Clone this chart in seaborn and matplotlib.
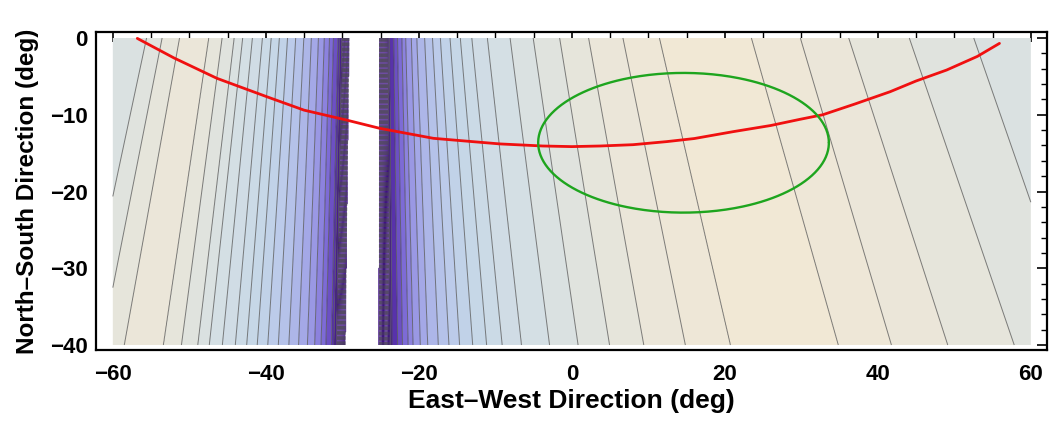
import numpy as np
import matplotlib
matplotlib.use("Agg")
import matplotlib.pyplot as plt
from matplotlib.colors import LinearSegmentedColormap, Normalize
import seaborn as sns
import pandas as pd

# ---------------- data ----------------
# contour positions (deg East-West) along the row y = -30, with their level index
row_y = -30.0
left_pos = [-63.0, -59.5, -56.7, -54.3, -51.9, -49.7, -47.7, -46.3, -44.7, -43.1, -41.7,
            -40.4, -39.1, -37.8, -36.5, -35.3, -34.2, -33.3, -32.5, -31.9, -31.2, -30.6, -29.4]
left_lvl = [15.6, 17, 18, 18.6, 18, 17, 16, 15, 14, 13, 12,
            11, 10, 9, 8, 7, 6, 5, 4, 3, 2, 0, -10]
right_pos = [-25.3, -23.8, -23.6, -22.9, -22.3, -21.6, -21.0, -20.1, -19.2, -17.9, -16.6,
             -15.3, -13.7, -12.0, -10.1, -7.7, -4.2, -0.65, 3.3, 7.6, 12.8, 18.4,
             25.2, 32.0, 38.8, 45.9, 54.4, 63.0, 80.0]
right_lvl = [-10, 0, 1, 2, 3, 4, 5, 6, 7, 8, 9,
             10, 11, 12, 13, 14, 15, 16, 17, 18, 19, 20,
             20.6, 20, 19, 18, 17, 16, 14]
gap_lo, gap_hi = -29.4, -25.3          # white (out of range) strip

# tilt of the contour lines (deg East-West per deg North-South)
tilt_pos = [-63, -55, -45, -35, -29, -25, -20, -10, 0, 10, 20, 30, 40, 50, 80]
tilt_val = [0.22, 0.17, 0.10, 0.04, 0.01, 0.0, -0.03, -0.10, -0.15, -0.19, -0.24, -0.28, -0.30, -0.34, -0.36]

# red track
red_x = [-56.8, -52.0, -46.4, -39.9, -35.0, -29.5, -25.1, -18.1, -13.0, -9.4, -3.8, 0.0, 3.7,
         8.0, 12.4, 16.0, 21.1, 26.0, 29.8, 32.8, 37.0, 41.6, 45.0, 49.0, 53.0, 55.9]
red_y = [-0.05, -2.6, -5.25, -7.64, -9.4, -10.68, -11.77, -13.07, -13.5, -13.8, -14.07, -14.15,
         -14.07, -13.9, -13.5, -13.1, -12.2, -11.4, -10.6, -10.0, -8.6, -7.0, -5.6, -4.17, -2.4,
         -0.7]

# green ellipse
ell_cx, ell_cy, ell_a, ell_b = 14.6, -13.65, 19.0, 9.1

xticks = [-60, -40, -20, 0, 20, 40, 60]
yticks = [0, -10, -20, -30, -40]
xlabel = "East\u2013West Direction (deg)"
ylabel = "North\u2013South Direction (deg)"

# colour scale (level index -> colour)
col_lvl = [0, 1, 3, 5, 7, 9, 11, 13, 15, 17, 19, 21]
col_hex = ["#3f1284", "#4f239e", "#7660d2", "#958fe2", "#a9b0e8", "#b9c8ea",
           "#c4d5e8", "#cddbe6", "#d7e0e3", "#e3e4dc", "#ede7d8", "#f2e8d4"]

# ---------------- build field ----------------
sns.set_theme(style="white")
plt.rcParams['font.family'] = ['Liberation Sans', 'DejaVu Sans']
plt.rcParams['text.color'] = 'black'
plt.rcParams['axes.labelcolor'] = 'black'
plt.rcParams['xtick.color'] = 'black'
plt.rcParams['ytick.color'] = 'black'

xs = np.linspace(-60, 60, 1201)
ys = np.linspace(-40, 0, 401)
X, Y = np.meshgrid(xs, ys)
T = X.copy()
for _ in range(30):
    T = X - np.interp(T, tilt_pos, tilt_val) * (Y - row_y)
prof_pos = np.array(left_pos + right_pos)
prof_lvl = np.array(left_lvl + right_lvl, dtype=float)
F = np.interp(T, prof_pos, prof_lvl)
F = np.ma.masked_where((T > gap_lo) & (T < gap_hi), F)

cmap = LinearSegmentedColormap.from_list(
    "mma", list(zip(np.array(col_lvl) / col_lvl[-1], col_hex)))
cmap.set_under(col_hex[0])
norm = Normalize(vmin=0, vmax=21)

fig = plt.figure(figsize=(10.49, 4.23), dpi=100)
ax = fig.add_axes([0.0915, 0.1726, 0.9065, 0.7517])

fill_levels = np.arange(-11, 22, 1)
ax.contourf(X, Y, F, levels=fill_levels, cmap=cmap, norm=norm, antialiased=True)
ax.contour(X, Y, F, levels=np.arange(-10, 21, 1), colors="#4a4a4a", linewidths=0.7, alpha=0.7)

# red track
track = pd.DataFrame({"x": red_x, "y": red_y})
sns.lineplot(data=track, x="x", y="y", ax=ax, color="#f01010", linewidth=2.0,
             sort=False, estimator=None)

# green ellipse
th = np.linspace(0, 2 * np.pi, 400)
ell = pd.DataFrame({"x": ell_cx + ell_a * np.cos(th), "y": ell_cy + ell_b * np.sin(th)})
sns.lineplot(data=ell, x="x", y="y", ax=ax, color="#1ea51e", linewidth=1.7,
             sort=False, estimator=None)

ax.set_xlim(-62.2, 62.1)
ax.set_ylim(-40.65, 0.78)
ax.set_xticks(xticks)
ax.set_yticks(yticks)
ax.set_xticks(np.arange(-60, 61, 5), minor=True)
ax.set_yticks(np.arange(-40, 1, 2), minor=True)
ax.tick_params(which="both", direction="in", top=True, right=True, color="black")
ax.tick_params(which="major", length=7, width=1.2, labelsize=16, labelcolor="black")
ax.tick_params(axis="x", which="major", pad=10)
ax.tick_params(axis="y", which="major", pad=6)
ax.tick_params(which="minor", length=4, width=1.0)
for lab in ax.get_xticklabels() + ax.get_yticklabels():
    lab.set_fontweight("bold")
for sp in ax.spines.values():
    sp.set_visible(True)
    sp.set_color("black")
    sp.set_linewidth(1.6)
ax.set_xlabel(xlabel, fontsize=19, fontweight="bold", labelpad=3, color="black")
ax.set_ylabel(ylabel, fontsize=17.5, fontweight="bold", labelpad=8, color="black")

fig.savefig("out.png", dpi=100)
